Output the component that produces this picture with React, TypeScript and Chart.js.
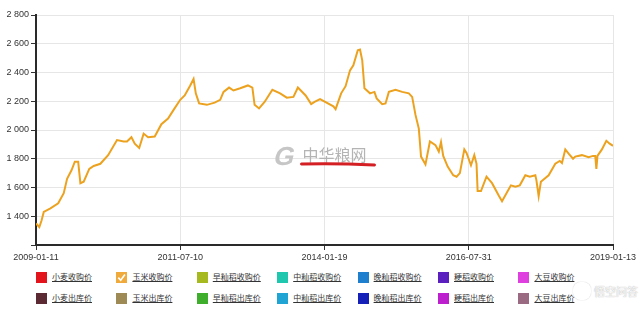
import React, { useEffect, useRef } from 'react';
import { Chart, registerables } from 'chart.js';

Chart.register(...registerables);

// week index counted from 2009-01-11
const weeks = [
  0, 3, 5, 7, 13, 20, 25, 28, 32, 35,
  38, 40, 43, 48, 52, 58, 65, 73, 79, 82,
  86, 89, 93, 97, 101, 107, 113, 119, 124, 130,
  134, 139, 142, 144, 147, 154, 161, 166, 169, 174,
  178, 184, 191, 195, 197, 201, 206, 213, 220, 226,
  232, 236, 243, 248, 251, 256, 268, 270, 275, 279,
  283, 286, 290, 292, 294, 296, 301, 305, 307, 312,
  315, 318, 324, 330, 336, 339, 342, 345, 347, 351,
  355, 360, 363, 365, 367, 371, 376, 379, 382, 386,
  388, 392, 395, 397, 398, 401, 406, 411, 417, 420,
  424, 428, 432, 436, 441, 445, 450, 451, 453, 455,
  462, 468, 472, 474, 477, 480, 484, 486, 492, 498,
  502, 504, 505, 506, 510, 514, 517, 520,
];

// 玉米收购价
const cornPrices = [
  1350, 1325, 1370, 1430, 1455, 1490, 1560, 1660, 1720, 1780,
  1780, 1630, 1640, 1730, 1750, 1765, 1825, 1930, 1920, 1920,
  1950, 1905, 1875, 1975, 1950, 1955, 2040, 2080, 2140, 2210,
  2240, 2310, 2355, 2255, 2185, 2175, 2190, 2210, 2265, 2295,
  2275, 2290, 2310, 2295, 2175, 2150, 2195, 2280, 2255, 2225,
  2230, 2295, 2240, 2180, 2195, 2215, 2165, 2145, 2255, 2305,
  2415, 2450, 2555, 2560, 2485, 2290, 2255, 2265, 2220, 2180,
  2185, 2265, 2280, 2265, 2255, 2230, 2105, 2010, 1815, 1760,
  1920, 1895, 1850, 1915, 1820, 1745, 1685, 1675, 1700, 1865,
  1840, 1755, 1825, 1765, 1575, 1575, 1675, 1630, 1545, 1505,
  1560, 1615, 1605, 1615, 1685, 1675, 1685, 1650, 1540, 1640,
  1685, 1765, 1785, 1770, 1865, 1835, 1800, 1815, 1825, 1810,
  1820, 1820, 1730, 1820, 1865, 1925, 1905, 1890,
];

const xTickWeeks = [0, 130, 260, 390, 520];
const xTickLabels = ['2009-01-11', '2011-07-10', '2014-01-19', '2016-07-31', '2019-01-13'];
const yTickValues = [1200, 1400, 1600, 1800, 2000, 2200, 2400, 2600, 2800];

const legendRow1 = ['小麦收购价', '玉米收购价', '早籼稻收购价', '中籼稻收购价', '晚籼稻收购价', '粳稻收购价', '大豆收购价'];
const legendRow2 = ['小麦出库价', '玉米出库价', '早籼稻出库价', '中籼稻出库价', '晚籼稻出库价', '粳稻出库价', '大豆出库价'];
const legendColors1 = ['#e3141b', '#f0aa3c', '#a6b91f', '#1fc7ae', '#1f7fcf', '#5b1fbf', '#e03fe0'];
const legendColors2 = ['#5b2a33', '#9d8a55', '#3fae2c', '#1fa4d3', '#1420b8', '#bd1fcf', '#9a6a83'];

const LINE_COLOR = '#eca21f';

const fmt = (v: number) => String(v).replace(/\B(?=(\d{3})+(?!\d))/g, ' ');

const watermark = {
  id: 'watermark',
  beforeDatasetsDraw(chart: any) {
    const { ctx, chartArea } = chart;
    const cx = (chartArea.left + chartArea.right) / 2;
    ctx.save();
    ctx.translate(cx - 52, 165);
    ctx.transform(1, 0, -0.25, 1, 0, 0);
    ctx.font = 'bold 26px "Liberation Sans", Arial, sans-serif';
    ctx.fillStyle = '#c6c6c6';
    ctx.textBaseline = 'alphabetic';
    ctx.fillText('G', 0, 0);
    ctx.restore();
    ctx.save();
    ctx.font = '16px "Noto Sans CJK SC", sans-serif';
    ctx.fillStyle = '#b4b4b4';
    ctx.fillText('中华粮网', cx - 22, 161);
    ctx.restore();
  },
  afterDraw(chart: any) {
    const { ctx, chartArea } = chart;
    const cx = (chartArea.left + chartArea.right) / 2;
    ctx.save();
    ctx.strokeStyle = '#d41f24';
    ctx.lineWidth = 3;
    ctx.lineCap = 'round';
    ctx.beginPath();
    ctx.moveTo(cx - 23, 164);
    ctx.quadraticCurveTo(cx + 10, 163, cx + 50, 165);
    ctx.stroke();
    ctx.restore();
  },
};

function LegendItem({ name, color, checked }: { name: string; color: string; checked?: boolean }) {
  return (
    <div style={{ display: 'flex', alignItems: 'center', height: 12 }}>
      <div style={{ width: 11, height: 11, background: color, marginRight: 5, position: 'relative', flex: 'none' }}>
        {checked && (
          <svg width="11" height="11" style={{ position: 'absolute', left: 0, top: 0 }}>
            <path d="M2.3 5.6 L4.7 8.2 L8.9 2.6" stroke="#fff" strokeWidth="1.6" fill="none" />
          </svg>
        )}
      </div>
      <span style={{ fontSize: 8, color: '#333', textDecoration: 'underline', whiteSpace: 'nowrap', fontFamily: '"Noto Sans CJK SC", sans-serif', lineHeight: '12px' }}>{name}</span>
    </div>
  );
}

export default function App() {
  const canvasRef = useRef<HTMLCanvasElement | null>(null);

  useEffect(() => {
    if (!canvasRef.current) return;
    Chart.defaults.font.family = '"Liberation Sans", Arial, sans-serif';
    const chart = new Chart(canvasRef.current, {
      type: 'line',
      data: {
        datasets: [
          {
            label: '玉米收购价',
            data: weeks.map((w, i) => ({ x: w, y: cornPrices[i] })),
            borderColor: LINE_COLOR,
            backgroundColor: LINE_COLOR,
            borderWidth: 2,
            pointRadius: 0,
            tension: 0,
            fill: false,
          },
        ],
      },
      options: {
        animation: false,
        responsive: false,
        maintainAspectRatio: false,
        layout: { padding: { left: 0, right: 27, top: 15, bottom: 0 } },
        plugins: { legend: { display: false }, tooltip: { enabled: false } },
        scales: {
          x: {
            type: 'linear',
            min: 0,
            max: 520,
            afterBuildTicks: (scale: any) => {
              scale.ticks = xTickWeeks.map((v) => ({ value: v }));
            },
            afterFit: (scale: any) => {
              scale.height = 20;
            },
            ticks: {
              autoSkip: false,
              maxRotation: 0,
              padding: 2,
              color: '#333',
              font: { size: 9 },
              callback: (v: any) => {
                const i = xTickWeeks.indexOf(Number(v));
                return i >= 0 ? xTickLabels[i] : '';
              },
            },
            grid: { color: '#e6e6e6', tickColor: '#333', tickLength: 5, lineWidth: 1 },
            border: { color: '#2a2a2a', width: 2 },
          },
          y: {
            type: 'linear',
            min: 1200,
            max: 2800,
            afterBuildTicks: (scale: any) => {
              scale.ticks = yTickValues.map((v) => ({ value: v }));
            },
            afterFit: (scale: any) => {
              scale.width = 36;
            },
            ticks: {
              padding: 2,
              color: '#333',
              font: { size: 9 },
              callback: (v: any) => (Number(v) === 1200 ? '' : fmt(Number(v))),
            },
            grid: { color: '#e6e6e6', tickColor: '#333', tickLength: 5, lineWidth: 1 },
            border: { color: '#2a2a2a', width: 2 },
          },
        },
      },
      plugins: [watermark],
    } as any);
    return () => chart.destroy();
  }, []);

  const colLeft = (k: number) => 36 + k * 80.4;

  return (
    <div style={{ position: 'absolute', left: 0, top: 0, width: 640, height: 310, background: '#fff', overflow: 'hidden' }}>
      <canvas ref={canvasRef} width={640} height={265} style={{ position: 'absolute', left: 0, top: 0, width: 640, height: 265 }} />
      {legendRow1.map((n, k) => (
        <div key={'a' + k} style={{ position: 'absolute', left: colLeft(k), top: 271 }}>
          <LegendItem name={n} color={legendColors1[k]} checked={k === 1} />
        </div>
      ))}
      {legendRow2.map((n, k) => (
        <div key={'b' + k} style={{ position: 'absolute', left: colLeft(k), top: 292 }}>
          <LegendItem name={n} color={legendColors2[k]} />
        </div>
      ))}
      <div style={{ position: 'absolute', left: 573, top: 282, display: 'flex', alignItems: 'center', opacity: 0.85 }}>
        <div style={{ width: 14, height: 14, borderRadius: 8, border: '2px solid rgba(255,255,255,0.95)', boxShadow: '0 0 1px rgba(0,0,0,0.4)', marginRight: 3 }} />
        <span style={{ fontSize: 11, color: 'rgba(255,255,255,0.95)', textShadow: '0 0 1px rgba(0,0,0,0.5)', fontFamily: '"Noto Sans CJK SC", sans-serif', whiteSpace: 'nowrap' }}>悟空问答</span>
      </div>
    </div>
  );
}
